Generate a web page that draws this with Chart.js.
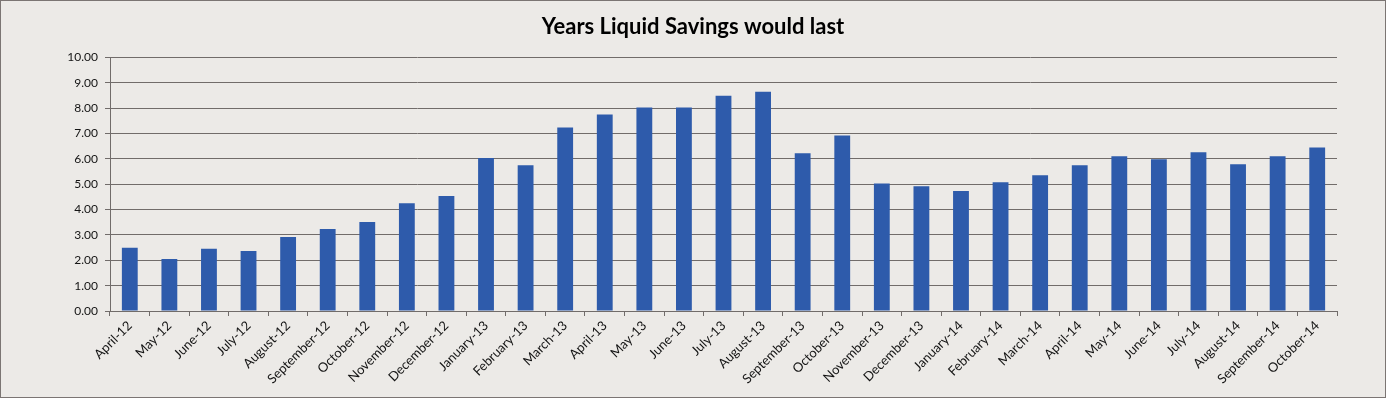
<!DOCTYPE html>
<html>
<head>
<meta charset="utf-8">
<script src="https://cdn.jsdelivr.net/npm/chart.js@4"></script>
<style>
  html, body { margin: 0; padding: 0; background: #ECEAE7; }
  #frame {
    width: 1384px; height: 396px;
    border: 1px solid #7b7573;
    background: #ECEAE7;
    position: relative;
  }
  canvas { display: block; }
</style>
</head>
<body>
<div id="frame"><canvas id="chart-savings" width="1384" height="396"></canvas></div>
<script>
// month labels, April 2012 .. October 2014
const months = [
  'April-12', 'May-12', 'June-12', 'July-12', 'August-12', 'September-12',
  'October-12', 'November-12', 'December-12', 'January-13', 'February-13',
  'March-13', 'April-13', 'May-13', 'June-13', 'July-13', 'August-13',
  'September-13', 'October-13', 'November-13', 'December-13', 'January-14',
  'February-14', 'March-14', 'April-14', 'May-14', 'June-14', 'July-14',
  'August-14', 'September-14', 'October-14'
];

// years the liquid savings would last
const yearsLeft = [
  2.49, 2.05, 2.45, 2.37, 2.92, 3.23, 3.51, 4.25, 4.53, 6.03, 5.75,
  7.24, 7.75, 8.02, 8.02, 8.49, 8.65, 6.22, 6.92, 5.03, 4.92, 4.73,
  5.08, 5.35, 5.75, 6.10, 5.98, 6.26, 5.79, 6.10, 6.45
];

const yTicks = [0, 1, 2, 3, 4, 5, 6, 7, 8, 9, 10];

const FONT = 'Lato, "Liberation Sans", sans-serif';
const GRID = '#716c6a';

const ctx = document.getElementById('chart-savings').getContext('2d');
new Chart(ctx, {
  type: 'bar',
  data: {
    labels: months,
    datasets: [{
      label: 'Years',
      data: yearsLeft,
      backgroundColor: '#2E5BAB',
      borderWidth: 0,
      barPercentage: 0.4,
      categoryPercentage: 1.0,
    }]
  },
  options: {
    responsive: false,
    animation: false,
    layout: { padding: 0 },
    scales: {
      x: {
        grid: {
          offset: true,
          drawOnChartArea: false,
          drawTicks: true,
          tickLength: 5,
          color: GRID,
        },
        border: { display: true, color: GRID, width: 1 },
        ticks: {
          color: '#141414',
          font: { family: FONT, size: 13 },
          minRotation: 45,
          maxRotation: 45,
          autoSkip: false,
          padding: 2,
        },
        afterFit: (scale) => { scale.height = 86; }
      },
      y: {
        min: 0,
        max: 10,
        afterBuildTicks: (scale) => { scale.ticks = yTicks.map(v => ({ value: v })); },
        grid: {
          color: GRID,
          lineWidth: 1,
          drawTicks: true,
          tickLength: 5,
        },
        border: { display: true, color: GRID, width: 1 },
        ticks: {
          color: '#141414',
          font: { family: FONT, size: 12 },
          padding: 7,
          callback: (v) => Number(v).toFixed(2),
        },
        afterFit: (scale) => { scale.width = 109; }
      },
      // empty right margin so the title stays centred on the whole frame
      yRight: {
        position: 'right',
        display: true,
        grid: { display: false, drawTicks: false },
        border: { display: false },
        ticks: { display: false },
        afterFit: (scale) => { scale.width = 48; }
      }
    },
    plugins: {
      legend: { display: false },
      tooltip: { enabled: false },
      title: {
        display: true,
        text: 'Years Liquid Savings would last',
        color: '#000',
        font: { family: FONT, size: 22, weight: 'bold' },
        padding: { top: 13, bottom: 17 },
      }
    }
  }
});
</script>
</body>
</html>
